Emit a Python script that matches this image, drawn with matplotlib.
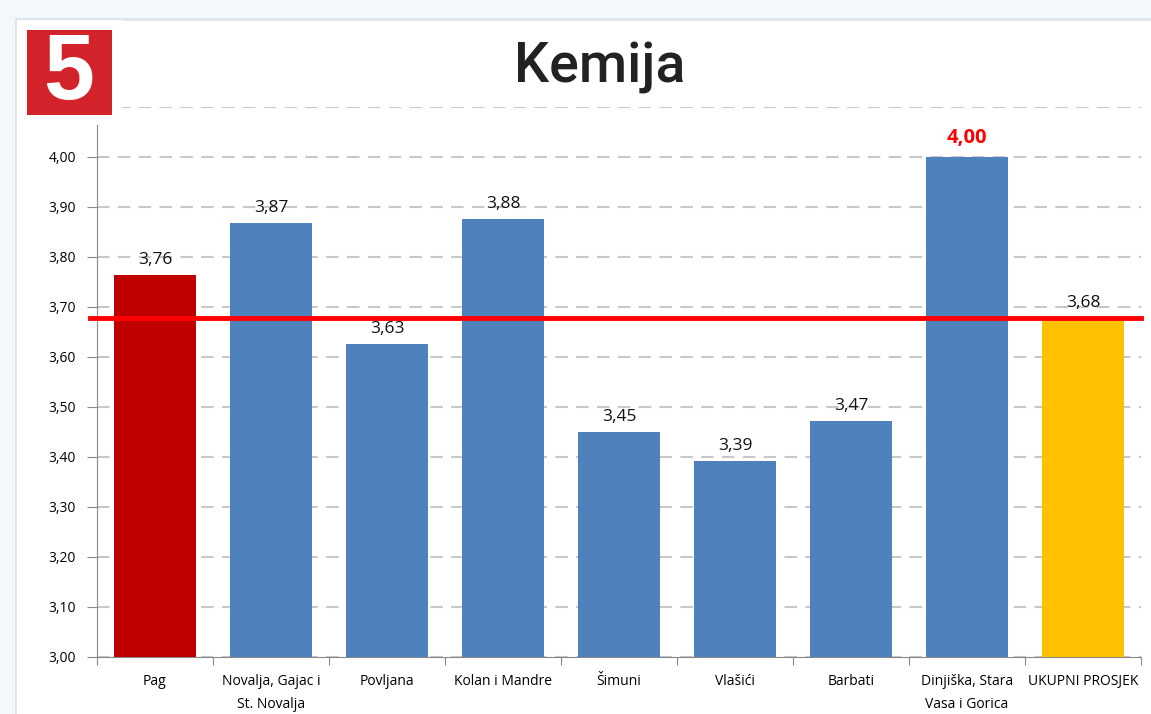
import matplotlib.pyplot as plt
from matplotlib.patches import Rectangle

# -------- data --------
categories = ["Pag", "Novalja, Gajac i\nSt. Novalja", "Povljana", "Kolan i Mandre",
              "Šimuni", "Vlašići", "Barbati", "Dinjiška, Stara\nVasa i Gorica",
              "UKUPNI PROSJEK"]
values = [3.764, 3.868, 3.626, 3.876, 3.45, 3.392, 3.472, 4.00, 3.678]
average = 3.678
yticks = [3.0, 3.1, 3.2, 3.3, 3.4, 3.5, 3.6, 3.7, 3.8, 3.9, 4.0, 4.1]

BLUE = "#4f81bd"
colors = ["#c00000"] + [BLUE] * 7 + ["#ffc000"]

W, H = 1151, 714
fig = plt.figure(figsize=(W / 100, H / 100), dpi=100)
fig.patch.set_facecolor("#f3f8fc")

# white card with soft edge
fig.patches.append(Rectangle((15 / W, 0), 1, 1 - 18 / H, transform=fig.transFigure,
                             facecolor="#dfe5ea", edgecolor="none", zorder=-2))
fig.patches.append(Rectangle((17 / W, 0), 1, 1 - 21 / H, transform=fig.transFigure,
                             facecolor="white", edgecolor="none", zorder=-1))

ax = fig.add_axes([97 / W, 1 - 657 / H, (1141 - 97) / W, (657 - 107) / H])
ax.set_zorder(2)
ax.set_facecolor("none")

x = range(len(categories))
ax.bar(x, values, width=0.715, color=colors, zorder=3)
ax.axhline(average, xmin=-0.007, xmax=1.0, color="#ff0000", lw=3.5, zorder=4, clip_on=False)

for i, v in enumerate(values):
    lbl = f"{v:.2f}".replace(".", ",")
    if i == 7:
        ax.text(i, v + 0.018, lbl, ha="center", va="bottom", fontsize=14.5, fontweight="bold",
                color="#ff0000", family="Open Sans", zorder=5)
    else:
        ax.text(i, v + 0.014, lbl, ha="center", va="bottom", fontsize=12.5,
                color="#111111", family="Open Sans", zorder=5)

ax.set_xlim(-0.5, len(categories) - 0.5)
ax.set_ylim(3.0, 4.1)
ax.set_yticks(yticks)
ax.set_yticklabels([f"{t:.2f}".replace(".", ",") for t in yticks[:-1]] + [""],
                   family="Open Sans", fontsize=10)
ax.grid(axis="y", color="#c8c8c8", lw=1.5, linestyle=(0, (6, 4)), zorder=1)
ax.yaxis.get_major_ticks()[-1].tick1line.set_visible(False)

ax.set_xticks([i + 0.5 for i in range(-1, len(categories))])
ax.set_xticklabels([])
ax.set_xticks(list(x), minor=True)
ax.set_xticklabels(categories, minor=True, family="Open Sans", fontsize=10, linespacing=1.75)
ax.tick_params(axis="x", which="minor", length=0, pad=12)
ax.tick_params(axis="x", which="major", length=6, color="#888888")
ax.tick_params(axis="y", length=7, color="#888888", pad=8)

for s in ["top", "right"]:
    ax.spines[s].set_visible(False)
ax.spines["left"].set_color("#888888")
ax.spines["bottom"].set_color("#888888")
ax.spines["left"].set_bounds(3.0, 4.064)

# title
fig.text(600 / W, 1 - 68 / H, "Kemija", ha="center", va="center", fontsize=40,
         family="Roboto", fontweight="medium", color="#222222")

# badge
fig.patches.append(Rectangle((17 / W, 1 - 118 / H), 105 / W, 98 / H, transform=fig.transFigure,
                             facecolor="white", edgecolor="none", zorder=5))
fig.patches.append(Rectangle((27 / W, 1 - 115 / H), 85 / W, 85 / H, transform=fig.transFigure,
                             facecolor="#d2232a", edgecolor="none", zorder=6))
fig.text(69 / W, 1 - 75 / H, "5", ha="center", va="center", fontsize=66,
         family="Liberation Sans", fontweight="bold", color="white", zorder=7)

fig.savefig("out.png", dpi=100)
